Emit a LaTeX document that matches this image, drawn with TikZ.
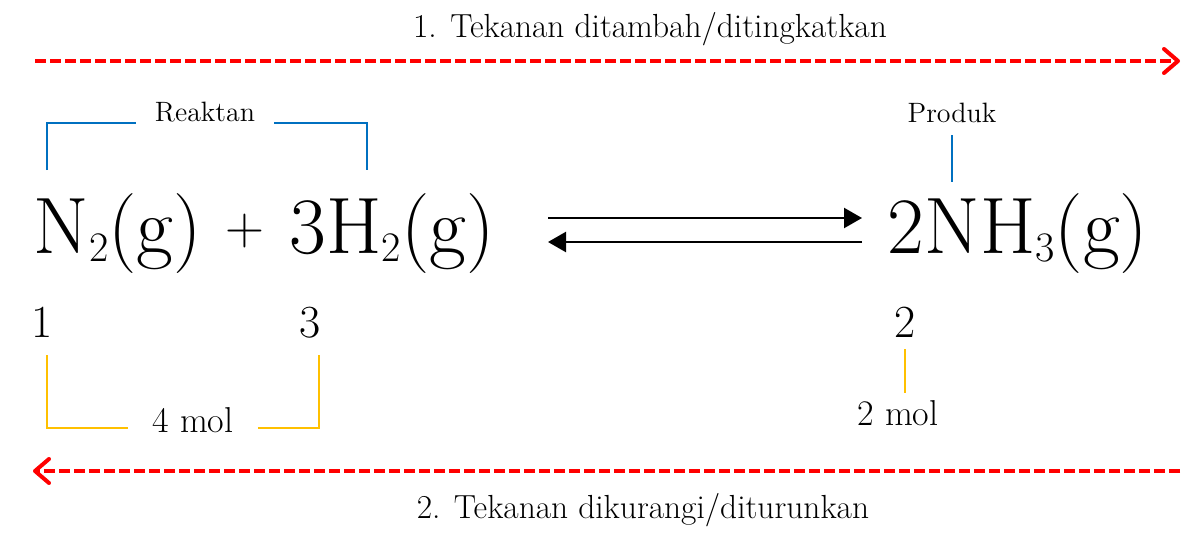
\documentclass[tikz,border=0pt]{standalone}
\usepackage{fontspec}
\usepackage{tikz}
\usetikzlibrary{arrows.meta}
\definecolor{kurungbiru}{HTML}{0070C0}
\definecolor{kurungkuning}{HTML}{FFC000}
\newcommand{\chemsub}[1]{{\fontsize{21}{24}\selectfont\raisebox{-4pt}{#1}}}

\begin{document}
\begin{tikzpicture}[x=0.5pt,y=-0.5pt,
 chem/.style={font=\fontsize{40}{48}\selectfont,xscale=1,anchor=base,inner sep=0pt},
 koef/.style={font=\fontsize{23}{28}\selectfont,anchor=base},
 lbl/.style={font=\fontsize{14}{17}\selectfont,anchor=base},
 mol/.style={font=\fontsize{18}{22}\selectfont,anchor=base},
 ket/.style={font=\fontsize{16.7}{20}\selectfont,anchor=base},
 redarr/.style={red,line width=2pt,dash pattern=on 5.5pt off 2pt,-{Straight Barb[length=7pt,width=12pt,round]}},
 eqarr/.style={black,line width=1.2pt,-{Triangle[length=9pt,width=10pt]}},
 bluebr/.style={color=kurungbiru,line width=1pt},
 yelbr/.style={color=kurungkuning,line width=1pt}]
\useasboundingbox (0,0) rectangle (1200,546);
% tekanan ditambah
\node[ket] (tekan1) at (650,38) {1. Tekanan ditambah/ditingkatkan};
\coordinate (ta) at (35,61); \coordinate (tb) at (1180,61);
\draw[redarr] (ta) -- (tb);
% persamaan reaksi
\node[chem] (n2) at (118,253) {N\chemsub{2}(g)};
\node[chem,font=\fontsize{27}{30}\selectfont,anchor=center] (plus) at (245,231) {+};
\node[chem] (h2) at (392,253) {3H\chemsub{2}(g)};
\node[chem] (nh3) at (1018,253) {2NH\chemsub{3}(g)};
\coordinate (eqa) at (548,218); \coordinate (eqb) at (862,218);
\coordinate (eqc) at (862,242); \coordinate (eqd) at (548,242);
\draw[eqarr] (eqa) -- (eqb); \draw[eqarr] (eqc) -- (eqd);
% reaktan / produk
\node[lbl,inner xsep=9.5pt] (reaktan) at (205,121) {Reaktan};
\coordinate (rk1) at (47,170); \coordinate (rk2) at (367,170);
\draw[bluebr] (rk1) |- ([yshift=-1pt]reaktan.base west); \draw[bluebr] ([yshift=-1pt]reaktan.base east) -| (rk2);
\node[lbl] (produk) at (952,122) {Produk};
\coordinate (pd1) at (952,182);
\draw[bluebr,shorten <=3pt] (produk.south) -- (pd1);
% koefisien dan jumlah mol
\node[koef] (k1) at (42,337) {1}; \node[koef] (k3) at (310,337) {3}; \node[koef] (k2) at (905,337) {2};
\node[mol,inner xsep=12pt] (mol4) at (193,432) {4 mol};
\coordinate (ym1) at (47,355); \coordinate (ym2) at (319,355);
\draw[yelbr] (ym1) |- ([yshift=2pt]mol4.base west); \draw[yelbr] ([yshift=2pt]mol4.base east) -| (ym2);
\node[mol] (mol2) at (898,425) {2 mol};
\draw[yelbr,shorten <=2.5pt] (k2.south) -- (k2.south |- mol2.north);
% tekanan dikurangi
\coordinate (tc) at (1180,471); \coordinate (td) at (33,471);
\draw[redarr] (tc) -- (td);
\node[ket] (tekan2) at (643,518) {2. Tekanan dikurangi/diturunkan};
\end{tikzpicture}
\end{document}
